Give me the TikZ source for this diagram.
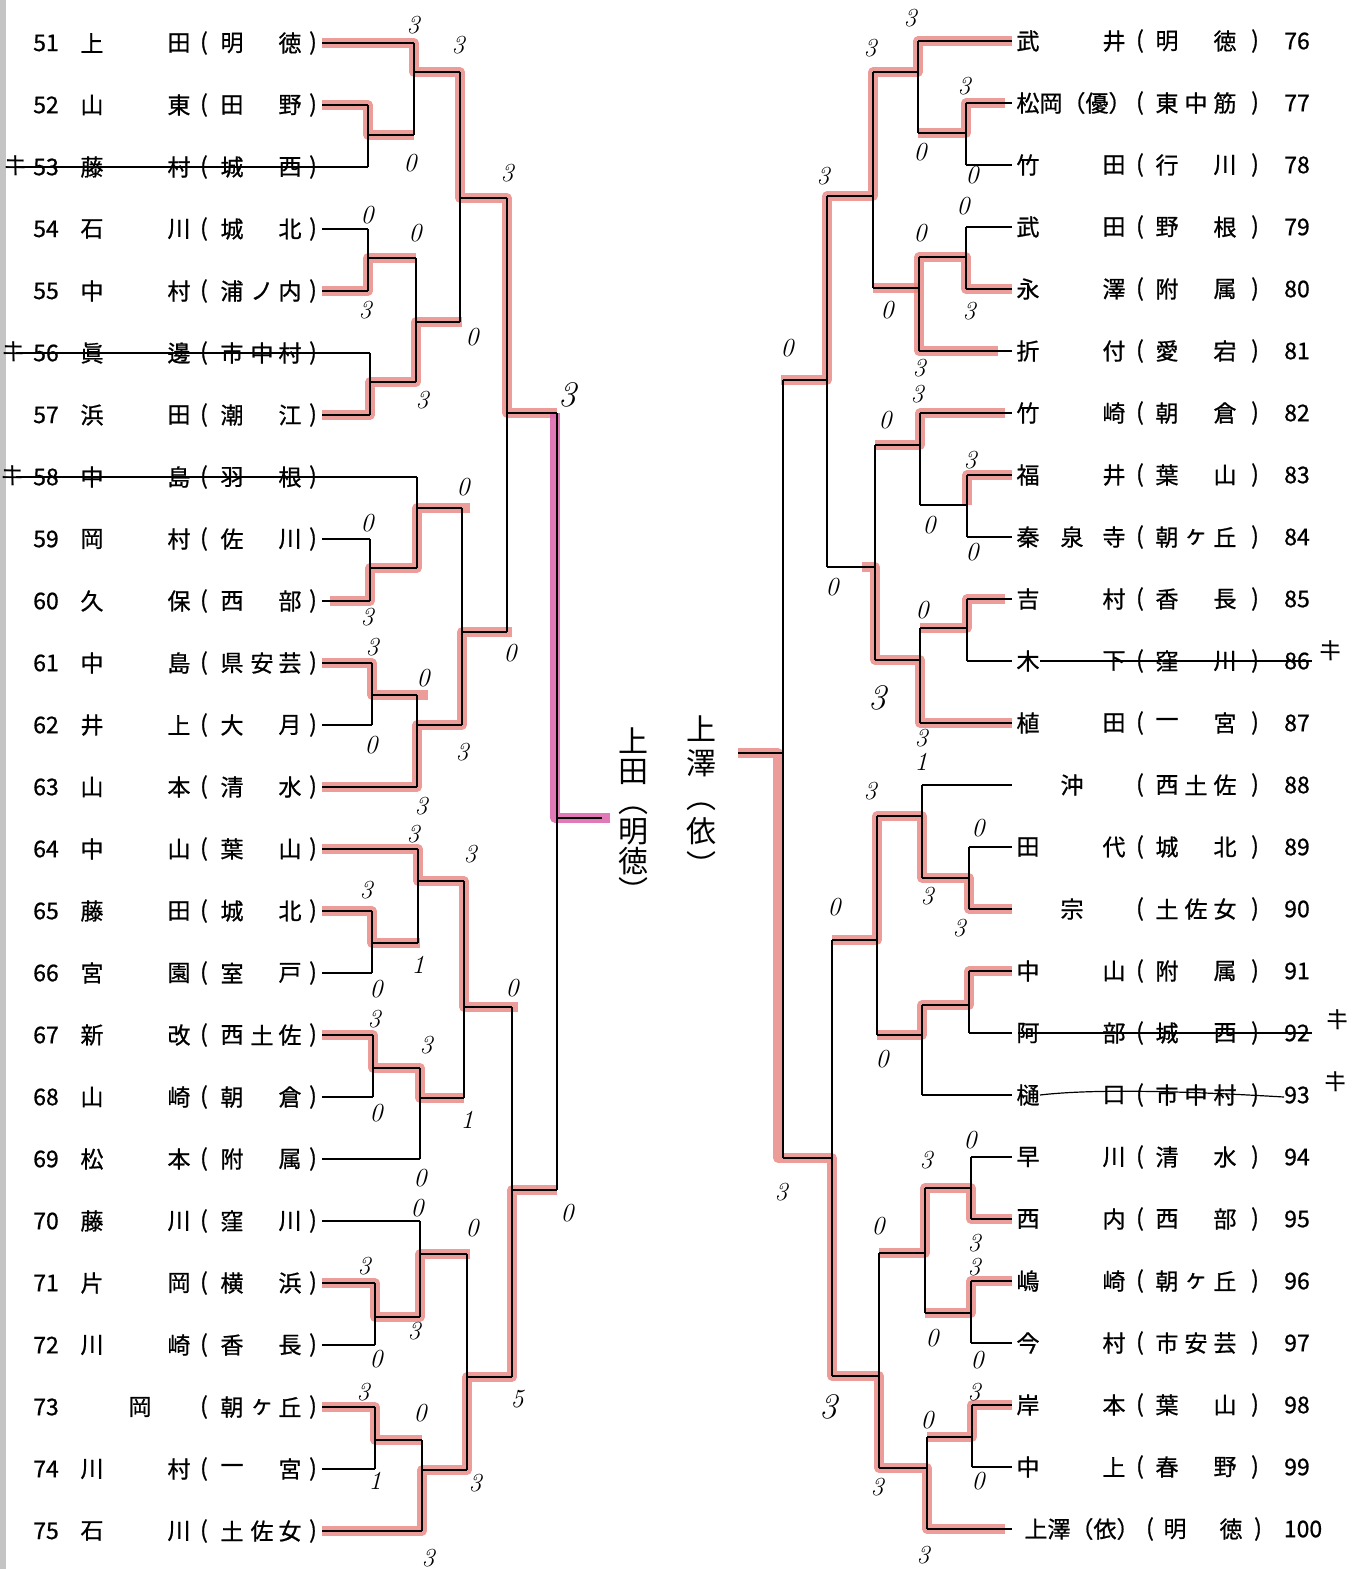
\documentclass[tikz,border=0pt]{standalone}
\usepackage{fontspec}
\newfontfamily\jp{Noto Sans CJK JP}[FakeBold=0.8]
\newfontfamily\jphand{Noto Sans CJK JP}
\usetikzlibrary{calc}
\definecolor{markpink}{HTML}{E8847F}
\definecolor{markmag}{HTML}{DE6AAE}
\definecolor{scanedge}{HTML}{C4C4C4}

\begin{document}
\begin{tikzpicture}[x=0.5pt, y=-0.5pt, font=\jp\fontsize{11.5}{12}\selectfont]
  \tikzstyle{ch}=[inner sep=0pt]
  \tikzstyle{bk}=[line width=1.1pt]
  \tikzstyle{hl}=[line width=4.6pt, draw=markpink, opacity=0.8, line join=round]
  \tikzstyle{hlm}=[hl, draw=markmag, opacity=0.9]
  \tikzstyle{strike}=[line width=0.6pt]
  \tikzstyle{score}=[inner sep=0pt, font=\rmfamily\itshape\fontsize{13}{13}\selectfont]
  \tikzstyle{scorebig}=[inner sep=0pt, font=\rmfamily\itshape\fontsize{18}{18}\selectfont]
  \tikzstyle{hand}=[inner sep=0pt, align=center, anchor=north]
  \tikzstyle{kimark}=[inner sep=0pt, font=\jphand\fontsize{12}{12}\selectfont, rotate=-10]
  \useasboundingbox (0,0) rectangle (1358,1569);
  \fill[scanedge] (0,0) rectangle (6,1569);

  % left half, 51-75
  \foreach \na/\ca/\cm/\cb/\fa/\fb/\fc in {51/上//田/明//徳, 52/山//東/田//野, 53/藤//村/城//西,
      54/石//川/城//北, 55/中//村/浦/ノ/内, 56/眞//邊/市/中/村, 57/浜//田/潮//江, 58/中//島/羽//根,
      59/岡//村/佐//川, 60/久//保/西//部, 61/中//島/県/安/芸, 62/井//上/大//月, 63/山//本/清//水,
      64/中//山/葉//山, 65/藤//田/城//北, 66/宮//園/室//戸, 67/新//改/西/土/佐, 68/山//崎/朝//倉,
      69/松//本/附//属, 70/藤//川/窪//川, 71/片//岡/横//浜, 72/川//崎/香//長, 73//岡//朝/ヶ/丘,
      74/川//村/一//宮, 75/石//川/土/佐/女}{
    \pgfmathsetmacro\yy{43+62*(\na-51)}
    \node[ch] (ln\na) at (46,\yy) {\na};
    \node[ch] (la\na) at (92,\yy) {\ca};
    \node[ch] (lm\na) at (140,\yy) {\cm};
    \node[ch] (lb\na) at (179,\yy) {\cb};
    \node[ch] (lo\na) at (204,\yy) {(};
    \node[ch] (lf\na) at (232,\yy) {\fa};
    \node[ch] (lg\na) at (262,\yy) {\fb};
    \node[ch] (lh\na) at (290,\yy) {\fc};
    \node[ch] (lc\na) at (313,\yy) {)};
    \coordinate (lp\na) at (322,\yy);
  }

  % right half, 76-100
  \foreach \na/\ca/\cm/\cb/\fa/\fb/\fc in {76/武//井/明//徳, 78/竹//田/行//川, 79/武//田/野//根,
      80/永//澤/附//属, 81/折//付/愛//宕, 82/竹//崎/朝//倉, 83/福//井/葉//山, 84/秦/泉/寺/朝/ヶ/丘,
      85/吉//村/香//長, 86/木//下/窪//川, 87/植//田/一//宮, 88//沖//西/土/佐, 89/田//代/城//北,
      90//宗//土/佐/女, 91/中//山/附//属, 92/阿//部/城//西, 93/樋//口/市/中/村, 94/早//川/清//水,
      95/西//内/西//部, 96/嶋//崎/朝/ヶ/丘, 97/今//村/市/安/芸, 98/岸//本/葉//山, 99/中//上/春//野}{
    \pgfmathsetmacro\yy{41+62*(\na-76)}
    \node[ch] (ra\na) at (1028,\yy) {\ca};
    \node[ch] (rm\na) at (1072,\yy) {\cm};
    \node[ch] (rb\na) at (1114,\yy) {\cb};
    \node[ch] (ro\na) at (1140,\yy) {(};
    \node[ch] (rf\na) at (1167,\yy) {\fa};
    \node[ch] (rg\na) at (1196,\yy) {\fb};
    \node[ch] (rh\na) at (1225,\yy) {\fc};
    \node[ch] (rc\na) at (1255,\yy) {)};
    \node[ch] (rn\na) at (1297,\yy) {\na};
    \coordinate (rp\na) at (1012,\yy);
  }
  \node[ch] (ra77) at (1074,103) {松岡（優）};
  \node[ch] (ro77) at (1140,103) {(};
  \node[ch] (rf77) at (1167,103) {東};
  \node[ch] (rg77) at (1196,103) {中};
  \node[ch] (rh77) at (1225,103) {筋};
  \node[ch] (rc77) at (1255,103) {)};
  \node[ch] (rn77) at (1297,103) {77};
  \coordinate (rp77) at (1012,103);
  \node[ch] (ra100) at (1082,1529) {上澤（依）};
  \node[ch] (ro100) at (1150,1529) {(};
  \node[ch] (rf100) at (1175,1529) {明};
  \node[ch] (rh100) at (1231,1529) {徳};
  \node[ch] (rc100) at (1258,1529) {)};
  \node[ch] (rn100) at (1303,1529) {100};
  \coordinate (rp100) at (1012,1529);

  % winners marked in pink
  \draw[hl] (lp51) -- (414,43) -- (414,72) -- (460,72) -- (460,198) -- (507,198) -- (507,413) -- (557,413);
  \draw[hlm] (555,413) -- (555,818) -- (610,818);
  \draw[hl] (lp52) -- (368,105) -- (368,135) -- (414,135);
  \draw[hl] (lp55) -- (368,291) -- (368,258) -- (416,258);
  \draw[hl] (lp57) -- (370,415) -- (370,382) -- (416,382) -- (416,322) -- (462,322);
  \draw[hl] (330,601) -- (370,601) -- (370,568) -- (417,568) -- (417,508) -- (470,508);
  \draw[hl] (lp61) -- (372,663) -- (372,695) -- (428,695);
  \draw[hl] (lp63) -- (417,787) -- (417,725) -- (462,725) -- (462,632) -- (512,632);
  \draw[hl] (lp64) -- (418,849) -- (418,881) -- (464,881) -- (464,1007) -- (518,1007);
  \draw[hl] (lp65) -- (372,911) -- (372,943) -- (420,943);
  \draw[hl] (lp67) -- (373,1035) -- (373,1068) -- (420,1068) -- (420,1098) -- (464,1098);
  \draw[hl] (lp71) -- (375,1283) -- (375,1317) -- (420,1317) -- (420,1254) -- (470,1254);
  \draw[hl] (lp73) -- (375,1407) -- (375,1440) -- (422,1440);
  \draw[hl] (lp75) -- (422,1531) -- (422,1470) -- (467,1470) -- (467,1377) -- (512,1377) -- (512,1190) -- (557,1190);
  \draw[hl] (rp76) -- (918,41) -- (918,72) -- (873,72) -- (873,196) -- (827,196) -- (827,380) -- (781,380);
  \draw[hl] (1005,103) -- (966,103) -- (966,133) -- (918,133);
  \draw[hl] (rp80) -- (966,289) -- (966,257) -- (919,257) -- (919,351) -- (998,351);
  \draw[hl] (919,288) -- (873,288);
  \draw[hl] (1005,413) -- (920,413) -- (920,445) -- (875,445);
  \draw[hl] (rp83) -- (967,475) -- (967,505);
  \draw[hl] (1005,599) -- (967,599) -- (967,628) -- (920,628);
  \draw[hl] (rp87) -- (920,723) -- (920,660) -- (875,660) -- (875,567) -- (862,567);
  \draw[hl] (rp90) -- (969,909) -- (969,878) -- (922,878) -- (922,816) -- (877,816) -- (877,940) -- (832,940);
  \draw[hl] (rp91) -- (969,971) -- (969,1005) -- (922,1005) -- (922,1035) -- (877,1035);
  \draw[hl] (738,753) -- (778,753) -- (778,1158) -- (832,1158) -- (832,1376) -- (879,1376) -- (879,1468) -- (927,1468) -- (927,1529) -- (1005,1529);
  \draw[hl] (rp95) -- (971,1219) -- (971,1188) -- (925,1188) -- (925,1253) -- (879,1253);
  \draw[hl] (rp96) -- (971,1281) -- (971,1313) -- (925,1313);
  \draw[hl] (rp98) -- (972,1405) -- (972,1437) -- (927,1437);

  % printed bracket
  \foreach \na/\x in {51/414,52/368,53/368,54/368,55/368,56/370,57/370,58/417,59/370,60/370,61/372,
      62/372,63/417,64/418,65/372,66/372,67/373,68/373,69/420,70/420,71/375,72/375,73/375,74/375,75/422}
    \draw[bk] (lp\na) -- ++({\x-322},0);
  \foreach \na/\x in {76/918,77/966,78/966,79/966,80/966,81/919,82/920,83/967,84/967,85/967,86/967,
      87/920,88/922,89/969,90/969,91/969,92/969,93/922,94/971,95/971,96/971,97/971,98/972,99/972,100/927}
    \draw[bk] (rp\na) -- ++({\x-1012},0);
  \foreach \x/\ya/\yb/\yo/\xn in {368/105/167/135/414, 414/43/135/72/460, 368/229/291/258/416,
      370/353/415/382/416, 416/258/382/322/460, 460/72/322/198/507, 370/539/601/568/417,
      417/477/568/508/462, 372/663/725/695/417, 417/695/787/725/462, 462/508/725/632/507,
      507/198/632/413/557, 372/911/973/943/418, 418/849/943/881/464, 373/1035/1097/1068/420,
      420/1068/1159/1098/464, 464/881/1098/1007/512, 375/1283/1345/1317/420, 420/1221/1317/1254/467,
      375/1407/1469/1440/422, 422/1440/1531/1470/467, 467/1254/1470/1377/512, 512/1007/1377/1190/557,
      557/413/1190/818/602,
      966/103/165/133/918, 918/41/133/72/873, 966/227/289/257/919, 919/257/351/288/873,
      873/72/288/196/827, 967/475/537/505/920, 920/413/505/445/875, 967/599/661/628/920,
      920/628/723/660/875, 875/445/660/567/827, 827/196/567/380/783, 969/847/909/878/922,
      922/785/878/816/877, 969/971/1033/1005/922, 922/1005/1095/1035/877, 877/816/1035/940/832,
      971/1157/1219/1188/925, 971/1281/1343/1313/925, 925/1188/1313/1253/879, 972/1405/1467/1437/927,
      927/1437/1529/1468/879, 879/1253/1468/1376/832, 832/940/1376/1158/783, 783/380/1158/753/738}{
    \draw[bk] (\x,\ya) -- (\x,\yb);
    \draw[bk] (\x,\yo) -- (\xn,\yo);
  }

  % withdrawn entries
  \draw[strike] (16,167) -- (lp53);
  \draw[strike] (16,353) -- (lp56);
  \draw[strike] (16,477) -- (lp58);
  \draw[strike] (1040,661) -- (1312,661);
  \draw[strike] (1018,1033) -- (1312,1033);
  \draw[strike] (1040,1095) .. controls (1100,1088) and (1200,1092) .. (1284,1097);
  \node[kimark] (k53) at (16,166) {キ};
  \node[kimark] (k56) at (14,352) {キ};
  \node[kimark] (k58) at (13,476) {キ};
  \node[kimark] (k86) at (1331,651) {キ};
  \node[kimark] (k92) at (1338,1020) {キ};
  \node[kimark] (k93) at (1336,1082) {キ};

  % hand-written scores
  \foreach \x/\y/\s in {413/25/3, 458/45/3, 410/163/0, 507/173/3, 367/215/0, 415/233/0, 365/310/3,
      472/337/0, 422/400/3, 463/487/0, 367/523/0, 367/617/3, 372/647/3, 423/678/0, 371/745/0,
      510/653/0, 462/752/3, 421/806/3, 413/834/3, 470/854/3, 366/890/3, 418/965/1, 376/989/0,
      512/988/0, 374/1019/3, 426/1045/3, 376/1113/0, 467/1120/1, 420/1178/0, 417/1208/0,
      472/1228/0, 567/1213/0, 364/1266/3, 414/1331/3, 376/1359/0, 517/1399/5, 363/1392/3,
      420/1413/0, 375/1481/1, 475/1483/3, 428/1558/3,
      910/18/3, 870/48/3, 964/86/3, 920/152/0, 972/175/0, 823/176/3, 963/206/0, 920/233/0,
      887/310/0, 969/311/3, 787/348/0, 919/368/3, 917/394/3, 885/420/0, 970/460/3, 929/525/0,
      972/552/0, 832/587/0, 922/610/0, 921/738/3, 921/762/1, 870/791/3, 978/828/0, 927/896/3,
      959/928/3, 834/907/0, 882/1059/0, 970/1140/0, 926/1160/3, 781/1192/3, 878/1226/0,
      974/1243/3, 974/1267/3, 932/1338/0, 977/1360/0, 974/1392/3, 927/1420/0, 978/1481/0,
      877/1487/3, 923/1555/3}
    \node[score] (sc\x-\y) at (\x,\y) {\s};
  \node[scorebig] (sc567-395) at (567,395) {3};
  \node[scorebig] (sc877-698) at (877,698) {3};
  \node[scorebig] (sc828-1407) at (828,1407) {3};

  % finalists
  \node[hand, font=\jphand\fontsize{15}{15}\selectfont] (winl) at (633,727) {上\\田\\︵\\明\\徳\\︶};
  \node[hand, font=\jphand\fontsize{15}{17}\selectfont] (winr) at (701,715) {上\\澤\\︵\\依\\︶};
\end{tikzpicture}
\end{document}
